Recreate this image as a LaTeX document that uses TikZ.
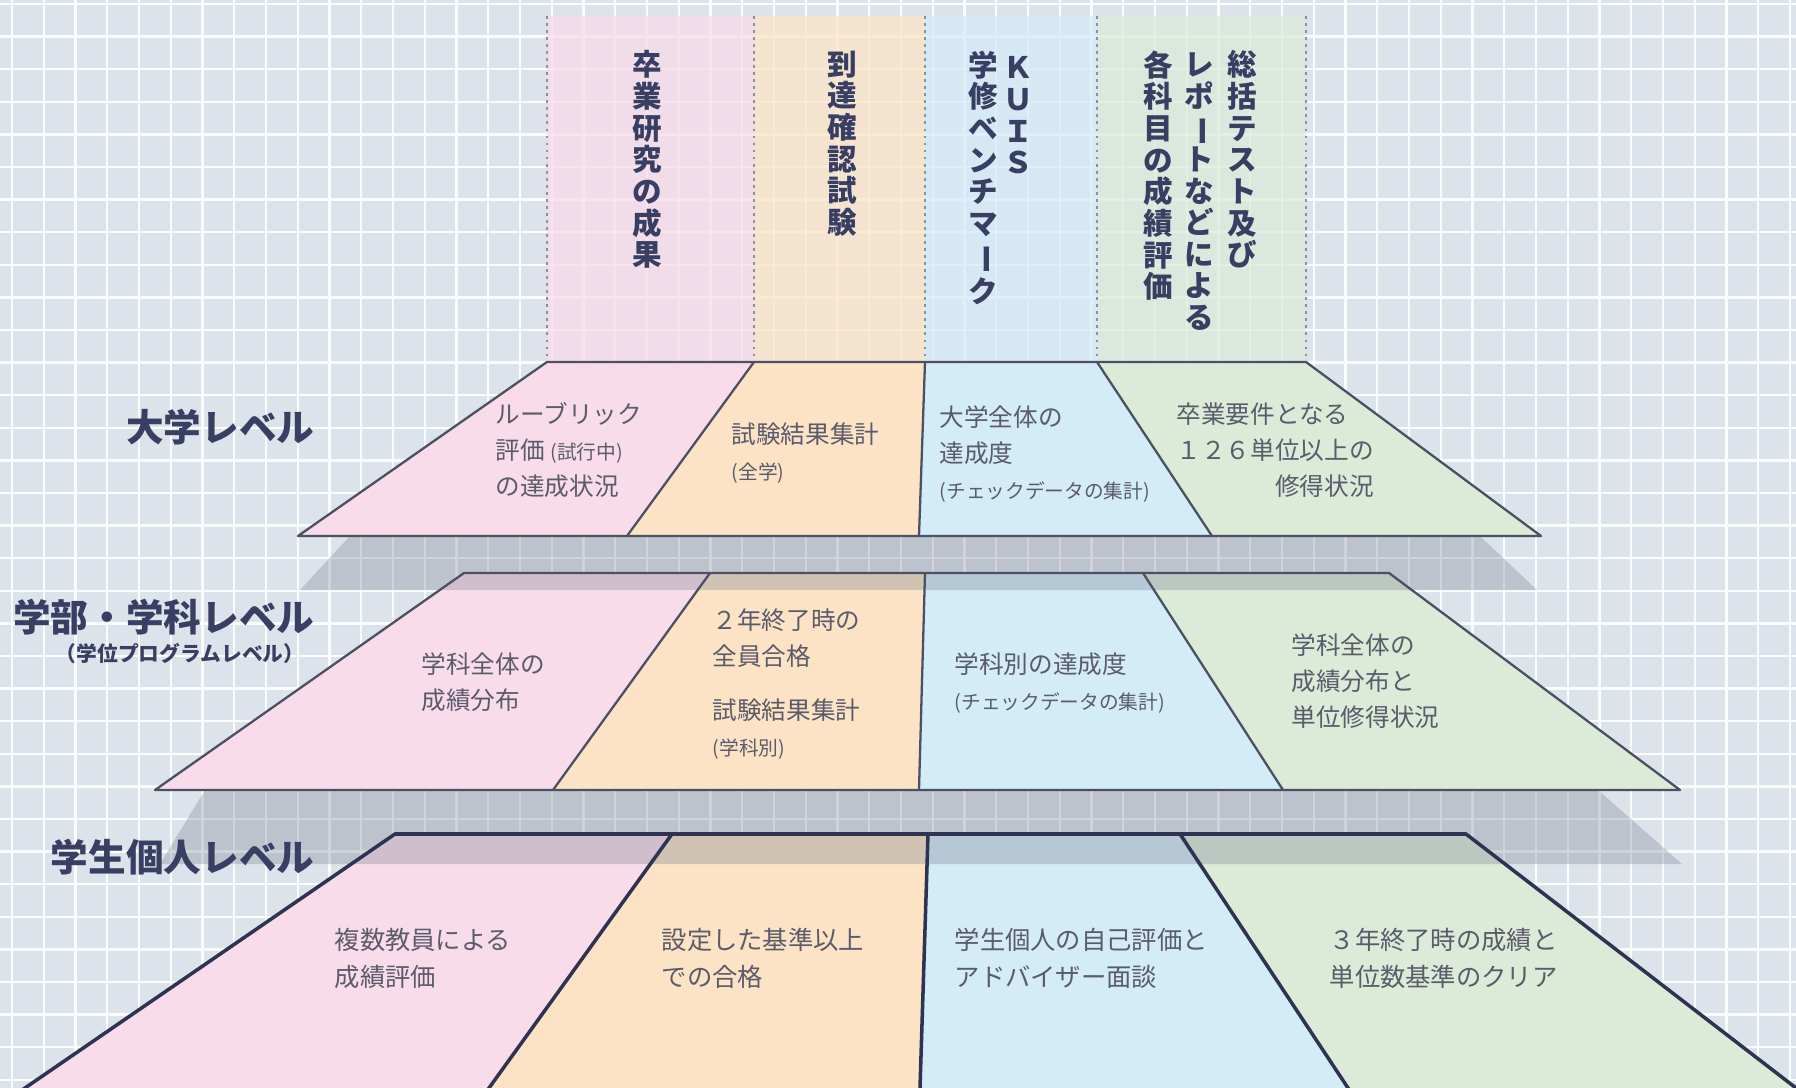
\documentclass[tikz,border=0pt]{standalone}
\usepackage{fontspec}
\usetikzlibrary{calc}
\setmainfont{Noto Sans CJK JP}
\definecolor{bgc}{HTML}{DDE3EA}
\definecolor{pinkc}{HTML}{F9DCE9}
\definecolor{orangec}{HTML}{FDE3C5}
\definecolor{bluec}{HTML}{D4EBF8}
\definecolor{greenc}{HTML}{DCEAD8}
\definecolor{navyc}{HTML}{383F62}
\definecolor{edgec}{HTML}{4B5063}
\definecolor{edgedark}{HTML}{2D3350}
\definecolor{celltextc}{HTML}{5A5B6B}
\definecolor{dotc}{HTML}{8E8E9E}
\definecolor{shadowc}{HTML}{77808F}
\newcommand\chonbar{\rotatebox[origin=c]{-90}{ー}}
\newcommand\smalltxt{\fontsize{5.6}{10.2}\selectfont}
\begin{document}
\begin{tikzpicture}[x=0.01cm,y=-0.01cm,
  gridline/.style={white,line width=0.7pt,opacity=0.9},
  colband/.style={fill opacity=0.72},
  dotline/.style={dotc,line width=0.5pt,dash pattern=on 0.8pt off 1.2pt},
  shade/.style={fill=shadowc,fill opacity=0.32},
  edgeA/.style={edgec,line width=0.65pt,line join=round},
  edgeB/.style={edgedark,line width=1.0pt,line join=round},
  lvllabel/.style={font=\fontsize{10.7}{12}\selectfont\bfseries,text=navyc,inner sep=0,anchor=east},
  sublabel/.style={font=\fontsize{5.9}{7}\selectfont\bfseries,text=navyc,inner sep=0,anchor=east},
  colhead/.style={font=\fontsize{8.4}{9.0}\selectfont\bfseries,text=navyc,align=center,anchor=north,inner sep=0},
  celltext/.style={font=\fontsize{7}{10.2}\selectfont,text=celltextc,align=left,anchor=west,inner sep=0},
  celltextB/.style={font=\fontsize{7.2}{10.5}\selectfont,text=celltextc,align=left,anchor=west,inner sep=0}
]
\useasboundingbox (0,0) rectangle (1796,1088);
\begin{scope}
\clip (0,0) rectangle (1796,1088);
% background and grid
\fill[bgc] (0,0) rectangle (1796,1088);
\foreach \i in {0,...,56} \draw[gridline] ({12+31.75*\i},0) -- ({12+31.75*\i},1088);
\foreach \j in {0,...,33} \draw[gridline] (0,{4+32.6*\j}) -- (1796,{4+32.6*\j});

% column coordinates
\coordinate (k0) at (547,16); \coordinate (k1) at (754,16); \coordinate (k2) at (925,16);
\coordinate (k3) at (1097,16); \coordinate (k4) at (1306,16);
% level 1
\coordinate (a0) at (547,362); \coordinate (a1) at (754,362); \coordinate (a2) at (925,362);
\coordinate (a3) at (1097,362); \coordinate (a4) at (1306,362);
\coordinate (b0) at (298,536); \coordinate (b1) at (627,536); \coordinate (b2) at (919,536);
\coordinate (b3) at (1212,536); \coordinate (b4) at (1541,536);
% level 2
\coordinate (c0) at (464,573); \coordinate (c1) at (710,573); \coordinate (c2) at (925,573);
\coordinate (c3) at (1143,573); \coordinate (c4) at (1389,573);
\coordinate (d0) at (155,790); \coordinate (d1) at (553,790); \coordinate (d2) at (919,790);
\coordinate (d3) at (1283,790); \coordinate (d4) at (1680,790);
% level 3
\coordinate (e0) at (395,834); \coordinate (e1) at (672,834); \coordinate (e2) at (928,834);
\coordinate (e3) at (1180,834); \coordinate (e4) at (1466,834);
\coordinate (f0) at (25,1088); \coordinate (f1) at (489,1088); \coordinate (f2) at (920,1088);
\coordinate (f3) at (1348,1088); \coordinate (f4) at (1796,1088);
\coordinate (g0) at ($(e0)!1.3!(f0)$); \coordinate (g1) at ($(e1)!1.3!(f1)$);
\coordinate (g2) at ($(e2)!1.3!(f2)$); \coordinate (g3) at ($(e3)!1.3!(f3)$);
\coordinate (g4) at ($(e4)!1.3!(f4)$);

% column bands
\fill[pinkc,colband] (k0) rectangle (a1);
\fill[orangec,colband] (k1) rectangle (a2);
\fill[bluec,colband] (k2) rectangle (a3);
\fill[greenc,colband] (k3) rectangle (a4);
\foreach \p/\q in {k0/a0,k1/a1,k2/a2,k3/a3,k4/a4} \draw[dotline] (\p) -- (\q);

% level fills
\fill[pinkc] (a0) -- (a1) -- (b1) -- (b0) -- cycle;
\fill[orangec] (a1) -- (a2) -- (b2) -- (b1) -- cycle;
\fill[bluec] (a2) -- (a3) -- (b3) -- (b2) -- cycle;
\fill[greenc] (a3) -- (a4) -- (b4) -- (b3) -- cycle;
\fill[pinkc] (c0) -- (c1) -- (d1) -- (d0) -- cycle;
\fill[orangec] (c1) -- (c2) -- (d2) -- (d1) -- cycle;
\fill[bluec] (c2) -- (c3) -- (d3) -- (d2) -- cycle;
\fill[greenc] (c3) -- (c4) -- (d4) -- (d3) -- cycle;
\fill[pinkc] (e0) -- (e1) -- (g1) -- (g0) -- cycle;
\fill[orangec] (e1) -- (e2) -- (g2) -- (g1) -- cycle;
\fill[bluec] (e2) -- (e3) -- (g3) -- (g2) -- cycle;
\fill[greenc] (e3) -- (e4) -- (g4) -- (g3) -- cycle;

% shadows
\fill[shade] (350,536) -- (1480,536) -- (1537,590) -- (300,590) -- cycle;
\fill[shade] (205,790) -- (1598,790) -- (1682,864) -- (160,864) -- cycle;

% edges
\draw[edgeA] (a0) -- (a4) -- (b4) -- (b0) -- cycle;
\draw[edgeA] (a1) -- (b1) (a2) -- (b2) (a3) -- (b3);
\draw[edgeA] (c0) -- (c4) -- (d4) -- (d0) -- cycle;
\draw[edgeA] (c1) -- (d1) (c2) -- (d2) (c3) -- (d3);
\draw[edgeB] (g0) -- (e0) -- (e4) -- (g4);
\draw[edgeB] (e1) -- (g1) (e2) -- (g2) (e3) -- (g3);
\end{scope}

% column headers (vertical text)
\node[colhead] (h1) at (647,50) {卒\\業\\研\\究\\の\\成\\果};
\node[colhead] (h2) at (842,50) {到\\達\\確\\認\\試\\験};
\node[colhead] (h3a) at (1018,56) {Ｋ\\Ｕ\\Ｉ\\Ｓ};
\node[colhead] (h3b) at (983,50) {学\\修\\ベ\\ン\\チ\\マ\\\chonbar\\ク};
\node[colhead] (h4a) at (1242,50) {総\\括\\テ\\ス\\ト\\及\\び};
\node[colhead] (h4b) at (1199,52) {レ\\ポ\\\chonbar\\ト\\な\\ど\\に\\よ\\る};
\node[colhead] (h4c) at (1158,50) {各\\科\\目\\の\\成\\績\\評\\価};

% level labels
\node[lvllabel] (lv1) at (315,427) {大学レベル};
\node[lvllabel] (lv2) at (315,617) {学部・学科レベル};
\node[sublabel] (lv2s) at (305,653) {（学位プログラムレベル）};
\node[lvllabel] (lv3) at (315,857) {学生個人レベル};

% level 1 texts
\node[celltext] (t1p) at (495,450) {ルーブリック\\評価 {\smalltxt(試行中)}\\の達成状況};
\node[celltext] (t1o) at (731,453) {試験結果集計\\{\smalltxt(全学)}};
\node[celltext] (t1b) at (939,454) {大学全体の\\達成度\\{\smalltxt(チェックデータの集計)}};
\node[celltext] (t1g) at (1176,450) {卒業要件となる\\１２６単位以上の\\\hphantom{１２６単}修得状況};

% level 2 texts
\node[celltext] (t2p) at (421,682) {学科全体の\\成績分布};
\node[celltext] (t2o1) at (712,638) {２年終了時の\\全員合格};
\node[celltext] (t2o2) at (712,729) {試験結果集計\\{\smalltxt(学科別)}};
\node[celltext] (t2b) at (954,683) {学科別の達成度\\{\smalltxt(チェックデータの集計)}};
\node[celltext] (t2g) at (1291,681) {学科全体の\\成績分布と\\単位修得状況};

% level 3 texts
\node[celltextB] (t3p) at (334,958) {複数教員による\\成績評価};
\node[celltextB] (t3o) at (661,958) {設定した基準以上\\での合格};
\node[celltextB] (t3b) at (954,958) {学生個人の自己評価と\\アドバイザー面談};
\node[celltextB] (t3g) at (1329,958) {３年終了時の成績と\\単位数基準のクリア};
\end{tikzpicture}
\end{document}
